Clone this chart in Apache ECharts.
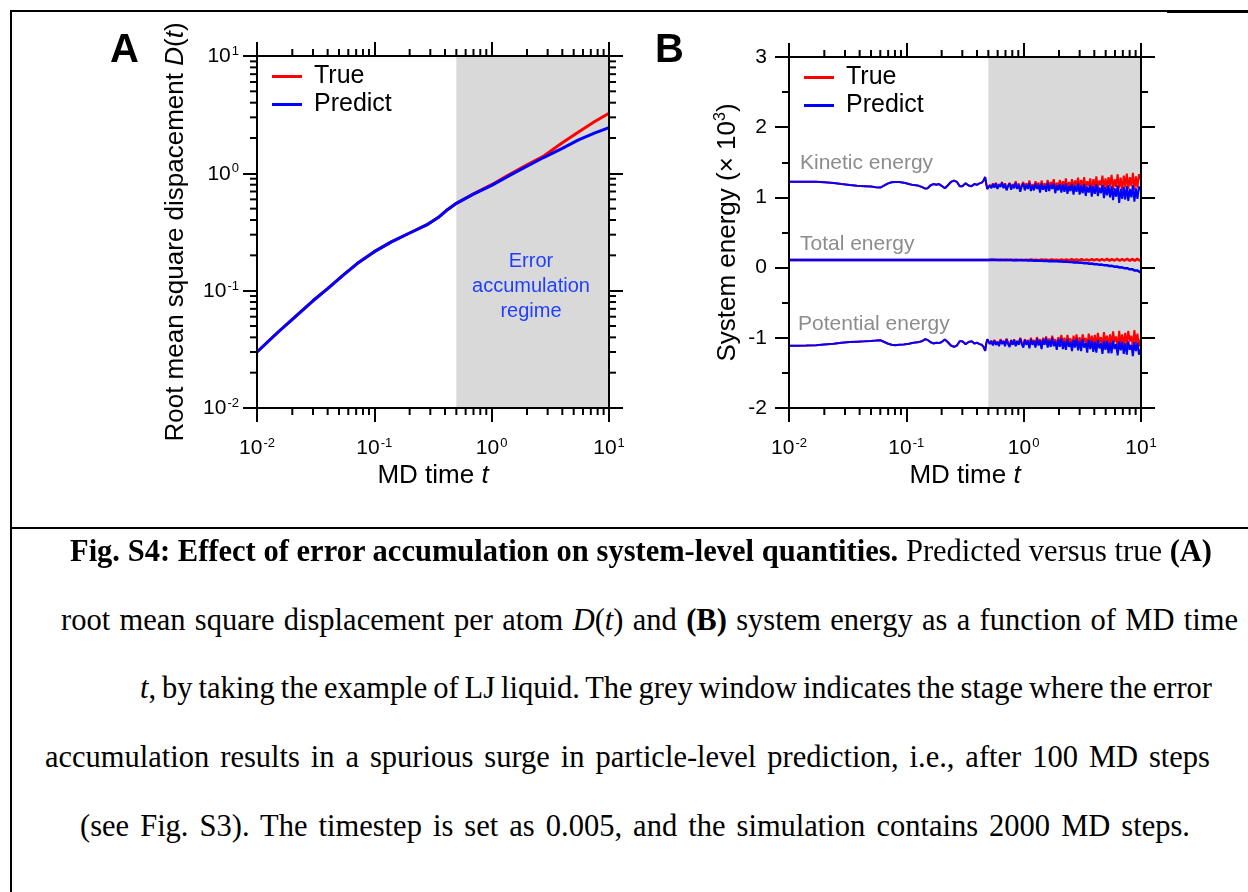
<!DOCTYPE html>
<html>
<head>
<meta charset="utf-8">
<script src="https://cdn.jsdelivr.net/npm/echarts@6/dist/echarts.min.js"></script>
<style>
  body { margin: 0; background: #fff; }
  #page { position: relative; width: 1248px; height: 892px; overflow: hidden; }
  #main { position: absolute; left: 0; top: 0; width: 1248px; height: 527px; }
  .rule { position: absolute; background: #000; }
  .cap { position: absolute; white-space: nowrap; text-align: left;
         font-family: 'Liberation Serif', 'Times New Roman', serif; font-size: 30.5px; line-height: 30px; color: #000; }
</style>
</head>
<body>
<div id="page">
  <div id="main"></div>
  <div class="rule" style="left:10px;top:10px;width:2px;height:882px"></div>
  <div class="rule" style="left:10px;top:10px;width:1157px;height:1.5px"></div>
  <div class="rule" style="left:1167px;top:10px;width:81px;height:2.5px"></div>
  <div class="rule" style="left:10px;top:527px;width:1238px;height:2px"></div>
  <div class="cap" data-w="1142" style="left:70px;top:536px"><span><b>Fig. S4: Effect of error accumulation on system-level quantities.</b> Predicted versus true <b>(A)</b></span></div>
  <div class="cap" data-w="1177" style="left:61px;top:605px"><span>root mean square displacement per atom <i>D</i>(<i>t</i>) and <b>(B)</b> system energy as a function of MD time</span></div>
  <div class="cap" data-w="1072" style="left:140px;top:673px"><span><i>t</i>, by taking the example of LJ liquid. The grey window indicates the stage where the error</span></div>
  <div class="cap" data-w="1165" style="left:45px;top:742px"><span>accumulation results in a spurious surge in particle-level prediction, i.e., after 100 MD steps</span></div>
  <div class="cap" data-w="1110" style="left:80px;top:811px"><span>(see Fig. S3). The timestep is set as 0.005, and the simulation contains 2000 MD steps.</span></div>
</div>
<script>
// panel A: root mean square displacement
const tRmsd = [0.01, 0.015, 0.02, 0.03, 0.04, 0.054, 0.074, 0.1, 0.141, 0.2, 0.279, 0.35, 0.42, 0.5, 0.7, 1.0, 1.4, 2.0, 2.8, 4.0, 5.5, 7.5, 10]
const rmsdTrue = [0.030, 0.044, 0.057, 0.082, 0.104, 0.135, 0.175, 0.215, 0.262, 0.31, 0.363, 0.42, 0.49, 0.555, 0.67, 0.80, 0.97, 1.18, 1.41, 1.82, 2.25, 2.75, 3.25]
const rmsdPred = [0.030, 0.044, 0.057, 0.082, 0.104, 0.135, 0.175, 0.215, 0.262, 0.31, 0.363, 0.42, 0.49, 0.555, 0.665, 0.79, 0.95, 1.15, 1.37, 1.63, 1.93, 2.2, 2.45]

// panel B: energies (x 10^3), smooth part before the grey window
const tEarly = [0.01, 0.012, 0.014, 0.017, 0.02, 0.024, 0.028, 0.033, 0.038, 0.044,
  0.05, 0.055, 0.06, 0.065, 0.07, 0.075, 0.08, 0.087, 0.095, 0.105,
  0.115, 0.125, 0.135, 0.145, 0.152, 0.16, 0.17, 0.18, 0.19, 0.2,
  0.213, 0.225, 0.24, 0.255, 0.27, 0.285, 0.3, 0.32, 0.34, 0.36,
  0.38, 0.4, 0.42, 0.44, 0.455, 0.47, 0.48, 0.49]
const keEarly = [1.223, 1.224, 1.224, 1.222, 1.215, 1.205, 1.19, 1.175, 1.165, 1.16,
  1.155, 1.145, 1.14, 1.17, 1.2, 1.215, 1.22, 1.22, 1.21, 1.19,
  1.175, 1.17, 1.15, 1.125, 1.13, 1.17, 1.19, 1.18, 1.19, 1.165,
  1.13, 1.17, 1.22, 1.24, 1.22, 1.16, 1.16, 1.2, 1.17, 1.16,
  1.19, 1.18, 1.2, 1.21, 1.24, 1.29, 1.19, 1.12]
const peEarly = [-1.114, -1.113, -1.11, -1.105, -1.095, -1.085, -1.07, -1.06, -1.055, -1.05,
  -1.045, -1.04, -1.035, -1.06, -1.085, -1.1, -1.105, -1.1, -1.095, -1.085,
  -1.07, -1.065, -1.05, -1.02, -1.03, -1.06, -1.08, -1.07, -1.075, -1.06,
  -1.025, -1.06, -1.11, -1.13, -1.11, -1.05, -1.05, -1.09, -1.06, -1.05,
  -1.08, -1.07, -1.09, -1.1, -1.13, -1.185, -1.08, -1.02]
const tTotalEarly = [0.01, 0.03, 0.1, 0.3]
const teEarly = [0.11, 0.11, 0.11, 0.11]

// inside the grey window: kinetic / potential energy (dense, noisy)
const tDense = [0.5, 0.515, 0.531, 0.547, 0.563, 0.58, 0.598, 0.616, 0.635, 0.654,
  0.674, 0.694, 0.715, 0.737, 0.759, 0.782, 0.806, 0.83, 0.855, 0.881,
  0.908, 0.935, 0.964, 0.993, 1.023, 1.054, 1.086, 1.119, 1.153, 1.188,
  1.224, 1.261, 1.299, 1.339, 1.379, 1.421, 1.464, 1.508, 1.554, 1.601,
  1.65, 1.7, 1.751, 1.804, 1.859, 1.915, 1.973, 2.033, 2.095, 2.158,
  2.224, 2.291, 2.361, 2.432, 2.506, 2.582, 2.66, 2.741, 2.824, 2.909,
  2.998, 3.088, 3.182, 3.279, 3.378, 3.48, 3.586, 3.695, 3.807, 3.922,
  4.041, 4.163, 4.29, 4.42, 4.554, 4.692, 4.834, 4.981, 5.132, 5.287,
  5.448, 5.613, 5.783, 5.958, 6.139, 6.325, 6.517, 6.714, 6.918, 7.127,
  7.343, 7.566, 7.795, 8.031, 8.275, 8.525, 8.784, 9.05, 9.324, 9.607, 10]
const keTrueLate = [1.12, 1.18, 1.14, 1.2, 1.15, 1.21, 1.13, 1.19, 1.16, 1.22,
  1.14, 1.2, 1.12, 1.17, 1.21, 1.13, 1.19, 1.15, 1.23, 1.14,
  1.2, 1.11, 1.18, 1.22, 1.13, 1.2, 1.15, 1.24, 1.12, 1.19,
  1.14, 1.23, 1.16, 1.21, 1.11, 1.24, 1.15, 1.2, 1.13, 1.25,
  1.14, 1.22, 1.17, 1.26, 1.12, 1.21, 1.15, 1.25, 1.13, 1.23,
  1.16, 1.27, 1.12, 1.22, 1.15, 1.26, 1.13, 1.24, 1.17, 1.28,
  1.13, 1.25, 1.15, 1.29, 1.12, 1.23, 1.16, 1.27, 1.11, 1.26,
  1.15, 1.3, 1.13, 1.24, 1.17, 1.31, 1.12, 1.27, 1.14, 1.29,
  1.16, 1.32, 1.11, 1.26, 1.15, 1.33, 1.13, 1.28, 1.1, 1.31,
  1.15, 1.34, 1.12, 1.29, 1.16, 1.35, 1.11, 1.3, 1.14, 1.33, 1.24]
const kePredLate = [1.11, 1.17, 1.13, 1.19, 1.14, 1.2, 1.12, 1.18, 1.15, 1.21,
  1.13, 1.19, 1.1, 1.16, 1.2, 1.11, 1.18, 1.13, 1.21, 1.12,
  1.18, 1.08, 1.16, 1.2, 1.1, 1.18, 1.12, 1.21, 1.09, 1.17,
  1.1, 1.2, 1.12, 1.18, 1.07, 1.2, 1.11, 1.17, 1.08, 1.21,
  1.09, 1.18, 1.12, 1.2, 1.06, 1.17, 1.1, 1.19, 1.07, 1.18,
  1.08, 1.2, 1.05, 1.16, 1.09, 1.19, 1.04, 1.17, 1.08, 1.2,
  1.04, 1.17, 1.06, 1.19, 1.02, 1.15, 1.07, 1.18, 1.01, 1.16,
  1.05, 1.19, 1.02, 1.14, 1.06, 1.18, 0.99, 1.15, 1.03, 1.17,
  1.0, 1.16, 0.96, 1.13, 1.01, 1.17, 0.92, 1.12, 0.98, 1.15,
  0.97, 1.16, 0.95, 1.12, 1.0, 1.17, 0.94, 1.13, 0.98, 1.15, 1.1]
const peTrueLate = [-1.02, -1.08, -1.04, -1.1, -1.03, -1.09, -1.05, -1.11, -1.02, -1.08,
  -1.04, -1.1, -1.01, -1.07, -1.11, -1.03, -1.09, -1.02, -1.1, -1.04,
  -1.09, -1.0, -1.07, -1.11, -1.02, -1.08, -1.03, -1.12, -1.0, -1.07,
  -1.03, -1.11, -0.99, -1.08, -1.02, -1.12, -1.0, -1.07, -0.98, -1.1,
  -1.01, -1.09, -0.97, -1.07, -1.02, -1.12, -0.99, -1.08, -0.96, -1.1,
  -1.0, -1.11, -0.96, -1.06, -1.01, -1.13, -0.97, -1.08, -0.95, -1.1,
  -0.99, -1.12, -0.95, -1.06, -1.0, -1.13, -0.94, -1.09, -0.97, -1.11,
  -0.96, -1.12, -0.93, -1.07, -0.99, -1.14, -0.92, -1.08, -0.97, -1.13,
  -0.95, -1.1, -0.91, -1.06, -0.98, -1.15, -0.9, -1.09, -0.95, -1.12,
  -0.93, -1.11, -0.9, -1.05, -0.97, -1.14, -0.89, -1.08, -0.94, -1.12, -1.0]
const pePredLate = [-1.03, -1.09, -1.05, -1.11, -1.04, -1.1, -1.06, -1.12, -1.03, -1.09,
  -1.05, -1.12, -1.02, -1.09, -1.13, -1.04, -1.1, -1.03, -1.12, -1.05,
  -1.1, -1.01, -1.09, -1.14, -1.03, -1.1, -1.04, -1.15, -1.02, -1.1,
  -1.05, -1.14, -1.01, -1.11, -1.04, -1.16, -1.02, -1.1, -1.0, -1.14,
  -1.04, -1.13, -1.0, -1.12, -1.05, -1.17, -1.02, -1.13, -1.01, -1.16,
  -1.05, -1.17, -1.02, -1.13, -1.06, -1.19, -1.03, -1.14, -1.01, -1.18,
  -1.05, -1.19, -1.02, -1.14, -1.07, -1.21, -1.03, -1.16, -1.04, -1.2,
  -1.06, -1.21, -1.03, -1.15, -1.08, -1.23, -1.04, -1.17, -1.05, -1.22,
  -1.07, -1.22, -1.04, -1.16, -1.09, -1.25, -1.05, -1.18, -1.06, -1.23,
  -1.08, -1.24, -1.05, -1.17, -1.1, -1.26, -1.06, -1.19, -1.07, -1.24, -1.15]

// inside the grey window: total energy
const tLate = [0.5, 0.53, 0.55, 0.58, 0.61, 0.64, 0.67, 0.71, 0.74, 0.78, 0.82, 0.86, 0.9, 0.95, 1.0,
  1.05, 1.1, 1.16, 1.22, 1.28, 1.35, 1.42, 1.49, 1.56, 1.64, 1.73, 1.82, 1.91, 2.0,
  2.1, 2.21, 2.32, 2.44, 2.56, 2.69, 2.83, 2.97, 3.12, 3.28, 3.45, 3.62, 3.81, 4.0,
  4.2, 4.42, 4.64, 4.88, 5.13, 5.39, 5.66, 5.95, 6.25, 6.57, 6.9, 7.25, 7.62, 8.0, 8.41, 8.84, 9.29, 9.76, 10]
const teTrueLate = [0.11, 0.112, 0.109, 0.111, 0.11, 0.112, 0.109, 0.111, 0.11, 0.112, 0.109, 0.111, 0.11, 0.113, 0.108,
  0.112, 0.107, 0.114, 0.108, 0.113, 0.106, 0.115, 0.107, 0.114, 0.105, 0.116, 0.107, 0.113, 0.104,
  0.118, 0.104, 0.116, 0.103, 0.119, 0.105, 0.117, 0.102, 0.12, 0.104, 0.118, 0.101, 0.121, 0.103,
  0.122, 0.1, 0.12, 0.101, 0.124, 0.099, 0.121, 0.1, 0.125, 0.098, 0.123, 0.1, 0.126, 0.097, 0.124, 0.099, 0.127, 0.098, 0.12]
const tePredLate = [0.11, 0.111, 0.109, 0.11, 0.11, 0.109, 0.108, 0.109, 0.107, 0.108, 0.106, 0.107, 0.105, 0.106, 0.104,
  0.104, 0.101, 0.103, 0.099, 0.101, 0.097, 0.099, 0.095, 0.097, 0.092, 0.094, 0.089, 0.091, 0.087,
  0.088, 0.082, 0.085, 0.078, 0.081, 0.073, 0.076, 0.068, 0.071, 0.062, 0.065, 0.055, 0.058, 0.048,
  0.05, 0.04, 0.043, 0.032, 0.034, 0.022, 0.025, 0.012, 0.015, 0.002, 0.004, -0.01, -0.008, -0.025, -0.022, -0.042, -0.04, -0.062, -0.07]

// grey window and minor tick positions
const windowStart = 0.5
const windowEnd = 10
const logMinor = [0.02, 0.03, 0.04, 0.05, 0.06, 0.07, 0.08, 0.09,
  0.2, 0.3, 0.4, 0.5, 0.6, 0.7, 0.8, 0.9,
  2, 3, 4, 5, 6, 7, 8, 9]

const RED = '#ff0000'
const BLUE = '#0000ff'
const FONT = "'Liberation Sans', Arial, Helvetica, sans-serif"

function pairs(xs, ys) {
  return xs.map((x, i) => [x, ys[i]])
}

const supRich = {
  b: { fontSize: 21, fontFamily: FONT, color: '#000', verticalAlign: 'bottom', lineHeight: 22 },
  s: { fontSize: 13, fontFamily: FONT, color: '#000', verticalAlign: 'top', lineHeight: 13, padding: [0, 0, 16, 1] }
}
const nameRich = {
  n: { fontSize: 26, fontFamily: FONT, color: '#000' },
  i: { fontSize: 26, fontFamily: FONT, color: '#000', fontStyle: 'italic' },
  s: { fontSize: 16, fontFamily: FONT, color: '#000', verticalAlign: 'top', padding: [0, 0, 14, 0] }
}

function logLabel(v) {
  const e = Math.round(Math.log10(v))
  return '{b|10}{s|' + e + '}'
}

function xAxisFor(grid, pos, withLabels) {
  return {
    gridIndex: grid,
    type: 'log',
    logBase: 10,
    min: 0.01,
    max: 10,
    position: pos,
    z: 10,
    axisLine: { show: true, onZero: false, lineStyle: { color: '#000', width: 2 } },
    axisTick: { show: true, inside: false, length: 14, lineStyle: { color: '#000', width: 2 } },
    axisLabel: withLabels ? { show: true, margin: 29, formatter: logLabel, rich: supRich } : { show: false },
    splitLine: { show: false },
    name: withLabels ? '{n|MD time }{i|t}' : '',
    nameLocation: 'middle',
    nameMoveOverlap: false,
    nameGap: 55,
    nameTextStyle: { rich: nameRich }
  }
}

function yLogAxis(pos, withLabels) {
  return {
    gridIndex: 0,
    type: 'log',
    logBase: 10,
    min: 0.01,
    max: 10,
    position: pos,
    z: 10,
    axisLine: { show: true, onZero: false, lineStyle: { color: '#000', width: 2 } },
    axisTick: { show: true, inside: false, length: 14, lineStyle: { color: '#000', width: 2 } },
    axisLabel: withLabels ? { show: true, margin: 18, formatter: logLabel, rich: supRich } : { show: false },
    splitLine: { show: false },
    name: withLabels ? '{n|Root mean square dispacement }{i|D}{n|(}{i|t}{n|)}' : '',
    nameLocation: 'middle',
    nameGap: 68,
    nameTextStyle: { rich: nameRich }
  }
}

function yEnergyAxis(pos, withLabels) {
  return {
    gridIndex: 1,
    type: 'value',
    min: -2,
    max: 3,
    interval: 1,
    position: pos,
    z: 10,
    axisLine: { show: true, onZero: false, lineStyle: { color: '#000', width: 2 } },
    axisTick: { show: true, inside: false, length: 14, lineStyle: { color: '#000', width: 2 } },
    minorTick: { show: true, splitNumber: 2, length: 7, lineStyle: { color: '#000', width: 2 } },
    axisLabel: withLabels ? { show: true, margin: 22, fontSize: 21, fontFamily: FONT, color: '#000' } : { show: false },
    splitLine: { show: false },
    minorSplitLine: { show: false },
    name: withLabels ? '{n|System energy (× 10}{s|3}{n|)}' : '',
    nameLocation: 'middle',
    nameGap: 46,
    nameTextStyle: { rich: nameRich }
  }
}

// minor ticks on log axes, placed through the axis scale
function minorXTicks(yMin, yMax) {
  return function (params, api) {
    const t = api.value(0)
    const b = api.coord([t, yMin])
    const u = api.coord([t, yMax])
    const st = { stroke: '#000', lineWidth: 2 }
    return {
      type: 'group',
      children: [
        { type: 'line', shape: { x1: b[0], y1: b[1], x2: b[0], y2: b[1] + 7 }, style: st },
        { type: 'line', shape: { x1: u[0], y1: u[1], x2: u[0], y2: u[1] - 7 }, style: st }
      ]
    }
  }
}
function minorYTicks(params, api) {
  const d = api.value(1)
  const l = api.coord([0.01, d])
  const r = api.coord([10, d])
  const st = { stroke: '#000', lineWidth: 2 }
  return {
    type: 'group',
    children: [
      { type: 'line', shape: { x1: l[0] - 7, y1: l[1], x2: l[0], y2: l[1] }, style: st },
      { type: 'line', shape: { x1: r[0], y1: r[1], x2: r[0] + 7, y2: r[1] }, style: st }
    ]
  }
}

function lineSeries(name, color, xi, yi, data, width) {
  return {
    name: name,
    type: 'line',
    xAxisIndex: xi,
    yAxisIndex: yi,
    data: data,
    showSymbol: false,
    symbol: 'none',
    color: color,
    lineStyle: { color: color, width: width },
    z: 5,
    silent: true
  }
}

function greyWindow(xi, yi, yVal) {
  return {
    type: 'line',
    xAxisIndex: xi,
    yAxisIndex: yi,
    data: [[windowStart, yVal]],
    symbol: 'none',
    lineStyle: { width: 0 },
    z: 1,
    silent: true,
    markArea: {
      silent: true,
      itemStyle: { color: '#d9d9d9' },
      data: [[{ xAxis: windowStart }, { xAxis: windowEnd }]]
    }
  }
}

const legendText = { fontSize: 25, fontFamily: FONT, color: '#000', lineHeight: 27, padding: [0, 0, 0, 7] }

const chart = echarts.init(document.getElementById('main'))
const option = {
  animation: false,
  grid: [
    { left: 257, top: 56, width: 352, height: 352 },
    { left: 789, top: 57, width: 352, height: 351 }
  ],
  xAxis: [
    xAxisFor(0, 'bottom', true),
    xAxisFor(0, 'top', false),
    xAxisFor(1, 'bottom', true),
    xAxisFor(1, 'top', false)
  ],
  yAxis: [
    yLogAxis('left', true),
    yLogAxis('right', false),
    yEnergyAxis('left', true),
    yEnergyAxis('right', false)
  ],
  legend: [
    {
      left: 267, top: 58, orient: 'vertical', itemGap: 1, itemWidth: 30, itemHeight: 3, icon: 'rect',
      data: ['True', 'Predict'], textStyle: legendText, selectedMode: false
    },
    {
      left: 799, top: 59, orient: 'vertical', itemGap: 1, itemWidth: 30, itemHeight: 3, icon: 'rect',
      data: ['True', 'Predict'], textStyle: legendText, selectedMode: false
    }
  ],
  graphic: [
    { type: 'text', left: 110, top: 31, style: { text: 'A', fontSize: 40, fontWeight: 'bold', fontFamily: FONT, fill: '#000' } },
    { type: 'text', left: 655, top: 31, style: { text: 'B', fontSize: 40, fontWeight: 'bold', fontFamily: FONT, fill: '#000' } },
    {
      type: 'text', x: 531, y: 286, z: 20,
      style: { text: 'Error\naccumulation\nregime', fontSize: 20, lineHeight: 25, fontFamily: FONT, fill: '#1f3fff', align: 'center', verticalAlign: 'middle' }
    },
    { type: 'text', x: 800, y: 163, z: 20, style: { text: 'Kinetic energy', fontSize: 21, fontFamily: FONT, fill: '#8c8c8c', verticalAlign: 'middle' } },
    { type: 'text', x: 800, y: 244, z: 20, style: { text: 'Total energy', fontSize: 21, fontFamily: FONT, fill: '#8c8c8c', verticalAlign: 'middle' } },
    { type: 'text', x: 798, y: 324, z: 20, style: { text: 'Potential energy', fontSize: 21, fontFamily: FONT, fill: '#8c8c8c', verticalAlign: 'middle' } }
  ],
  series: [
    greyWindow(0, 0, 1),
    greyWindow(2, 2, 0),
    lineSeries('True', RED, 0, 0, pairs(tRmsd, rmsdTrue), 3),
    lineSeries('Predict', BLUE, 0, 0, pairs(tRmsd, rmsdPred), 3),
    lineSeries('True', RED, 2, 2, pairs(tEarly.concat(tDense), keEarly.concat(keTrueLate)), 2),
    lineSeries('True', RED, 2, 2, pairs(tTotalEarly.concat(tLate), teEarly.concat(teTrueLate)), 2.5),
    lineSeries('True', RED, 2, 2, pairs(tEarly.concat(tDense), peEarly.concat(peTrueLate)), 2),
    lineSeries('Predict', BLUE, 2, 2, pairs(tEarly.concat(tDense), keEarly.concat(kePredLate)), 2),
    lineSeries('Predict', BLUE, 2, 2, pairs(tTotalEarly.concat(tLate), teEarly.concat(tePredLate)), 2.5),
    lineSeries('Predict', BLUE, 2, 2, pairs(tEarly.concat(tDense), peEarly.concat(pePredLate)), 2),
    {
      type: 'custom', xAxisIndex: 0, yAxisIndex: 0, z: 10, silent: true, clip: false,
      renderItem: minorXTicks(0.01, 10), data: logMinor.map(t => [t, 0.01])
    },
    {
      type: 'custom', xAxisIndex: 0, yAxisIndex: 0, z: 10, silent: true, clip: false,
      renderItem: minorYTicks, data: logMinor.map(d => [0.01, d])
    },
    {
      type: 'custom', xAxisIndex: 2, yAxisIndex: 2, z: 10, silent: true, clip: false,
      renderItem: minorXTicks(-2, 3), data: logMinor.map(t => [t, -2])
    }
  ]
}
chart.setOption(option)

// stretch each caption line to its measured extent by word spacing
document.querySelectorAll('.cap').forEach(function (el) {
  const span = el.firstElementChild
  const target = parseFloat(el.getAttribute('data-w'))
  const natural = span.getBoundingClientRect().width
  const gaps = span.textContent.split(' ').length - 1
  el.style.wordSpacing = ((target - natural) / gaps) + 'px'
})
</script>
</body>
</html>
